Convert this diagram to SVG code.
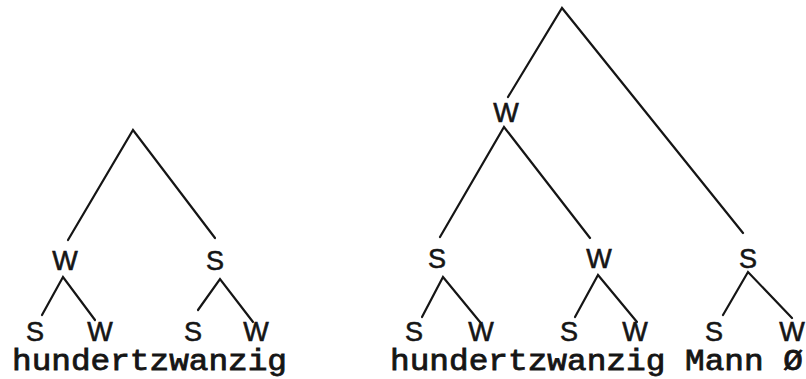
<svg xmlns="http://www.w3.org/2000/svg" width="806" height="379" viewBox="0 0 806 379">
<style>
.edge{stroke:#151515;stroke-width:2.2;fill:none;stroke-linecap:round}
.lbl{font-family:"Liberation Sans",Arial,sans-serif;font-size:27px;fill:#151515;stroke:#151515;stroke-width:0.6;text-anchor:middle}
.word{font-family:"Liberation Mono","Courier New",monospace;font-size:29px;fill:#151515;stroke:#151515;stroke-width:0.8}
</style>
<rect width="806" height="379" fill="#ffffff"/>
<g id="connectors">
<path class="edge" d="M68,240 L133,130 L215,238"/>
<path class="edge" d="M42,315 L63,277 L95,320"/>
<path class="edge" d="M198,310 L220,279 L253,322"/>
<path class="edge" d="M508,97 L562,8 L743,233"/>
<path class="edge" d="M440,237 L504,127 L590,238"/>
<path class="edge" d="M422,317 L443,277 L480,322"/>
<path class="edge" d="M575,317 L598,275 L637,322"/>
<path class="edge" d="M723,315 L748,272 L792,318"/>
</g>
<g id="left-W"><text class="lbl" x="65" y="270">W</text></g>
<g id="left-S"><text class="lbl" x="215" y="270">S</text></g>
<g id="left-W-S"><text class="lbl" x="35" y="341">S</text></g>
<g id="left-W-W"><text class="lbl" x="100" y="341">W</text></g>
<g id="left-S-S"><text class="lbl" x="193" y="341">S</text></g>
<g id="left-S-W"><text class="lbl" x="256" y="341">W</text></g>
<g id="left-word"><text class="word" x="12" y="370" textLength="275" lengthAdjust="spacingAndGlyphs">hundertzwanzig</text></g>
<g id="right-W"><text class="lbl" x="506" y="122">W</text></g>
<g id="right-W-S"><text class="lbl" x="437" y="268">S</text></g>
<g id="right-W-W"><text class="lbl" x="599" y="268">W</text></g>
<g id="right-S"><text class="lbl" x="748" y="268">S</text></g>
<g id="right-S1-S"><text class="lbl" x="414" y="341">S</text></g>
<g id="right-S1-W"><text class="lbl" x="481" y="341">W</text></g>
<g id="right-W1-S"><text class="lbl" x="569" y="341">S</text></g>
<g id="right-W1-W"><text class="lbl" x="635" y="341">W</text></g>
<g id="right-S2-S"><text class="lbl" x="714" y="341">S</text></g>
<g id="right-S2-W"><text class="lbl" x="792" y="341">W</text></g>
<g id="right-word"><text class="word" x="390" y="370" textLength="413" lengthAdjust="spacingAndGlyphs">hundertzwanzig Mann Ø</text></g>
</svg>
